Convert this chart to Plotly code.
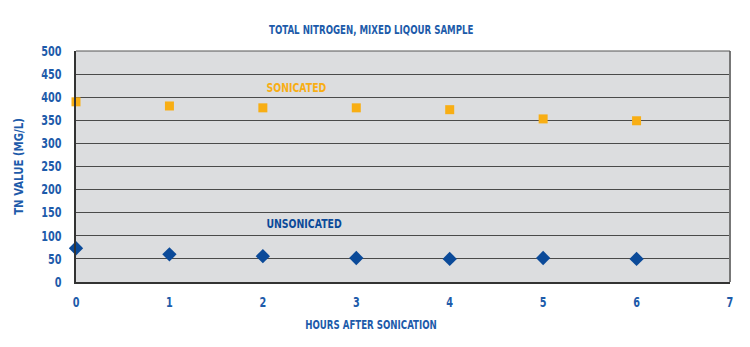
import plotly.graph_objects as go

hours = [0, 1, 2, 3, 4, 5, 6]
sonicated = [390, 381, 377, 377, 373, 353, 349]
unsonicated = [73, 60, 56, 52, 50, 52, 50]

x_ticks = [0, 1, 2, 3, 4, 5, 6, 7]
y_ticks = [0, 50, 100, 150, 200, 250, 300, 350, 400, 450, 500]

BLUE_TEXT = "#1D5BAA"
ORANGE = "#F8AE14"
NAVY = "#0B4A99"
FONT = "DejaVu Sans Condensed, Arial Narrow, sans-serif"

fig = go.Figure()
fig.add_trace(go.Scatter(
    x=hours, y=sonicated, mode="markers", name="SONICATED",
    marker=dict(symbol="square", size=9, color=ORANGE),
    cliponaxis=False,
))
fig.add_trace(go.Scatter(
    x=hours, y=unsonicated, mode="markers", name="UNSONICATED",
    marker=dict(symbol="diamond", size=11, color=NAVY),
    cliponaxis=False,
))

fig.add_annotation(x=2.36, y=422, text="SONICATED", showarrow=False,
                   font=dict(family=FONT, size=13, color=ORANGE, weight="bold"))
fig.add_annotation(x=2.44, y=126, text="UNSONICATED", showarrow=False,
                   font=dict(family=FONT, size=13, color=NAVY, weight="bold"))

# right and top edges of the plot frame
fig.add_shape(type="line", xref="paper", yref="paper", x0=1, x1=1, y0=0, y1=1,
              line=dict(color="#777777", width=2))
fig.add_shape(type="line", xref="paper", yref="paper", x0=0, x1=1, y0=1, y1=1,
              line=dict(color="#555555", width=1))

fig.update_layout(
    width=750, height=347,
    margin=dict(l=76, r=20, t=51, b=65),
    paper_bgcolor="white",
    plot_bgcolor="#DCDDDF",
    showlegend=False,
    title=dict(text="TOTAL NITROGEN, MIXED LIQOUR SAMPLE", x=0.495, xanchor="center",
               y=0.915, yanchor="middle",
               font=dict(family=FONT, size=13, color=BLUE_TEXT, weight="bold")),
    font=dict(family=FONT, color=BLUE_TEXT),
    xaxis=dict(
        range=[0, 7], tickvals=x_ticks, ticktext=[str(v) for v in x_ticks],
        showgrid=False, zeroline=False,
        showline=True, linecolor="#333333", linewidth=1.5,
        ticks="", ticklabelstandoff=7,
        tickfont=dict(family=FONT, size=13.5, color=BLUE_TEXT, weight="bold"),
        title=dict(text="HOURS AFTER SONICATION", standoff=11,
                   font=dict(family=FONT, size=13, color=BLUE_TEXT, weight="bold")),
    ),
    yaxis=dict(
        range=[0, 500], tickvals=y_ticks, ticktext=[str(v) for v in y_ticks],
        showgrid=True, gridcolor="#4A4A4A", gridwidth=1.3,
        zeroline=False,
        showline=True, linecolor="#333333", linewidth=1.5,
        ticks="", ticklabelstandoff=10,
        tickfont=dict(family=FONT, size=13.5, color=BLUE_TEXT, weight="bold"),
        title=dict(text="TN VALUE (MG/L)", standoff=10,
                   font=dict(family=FONT, size=13, color=BLUE_TEXT, weight="bold")),
    ),
)

# Narrow the condensed-bold lettering horizontally to get a tighter, poster-style face;
# the x-axis title is centred under the whole figure rather than the plot area.
narrow_css = """
.gtitle { transform-box: fill-box; transform-origin: center; transform: scaleX(0.74); }
.xtitle { transform-box: fill-box; transform-origin: center; transform: translateX(-32px) scaleX(0.74); }
g.xtick { transform-box: fill-box; transform-origin: center; transform: scaleX(0.8); }
g.ytick { transform-box: fill-box; transform-origin: right center; transform: scaleX(0.8); }
g.g-ytitle { transform-box: fill-box; transform-origin: center; transform: scaleY(0.87); }
text.annotation-text { transform-box: fill-box; transform-origin: center; transform: scaleX(0.8); }
"""
post_js = (
    "var st=document.createElement('style');"
    "st.textContent=" + repr(narrow_css).replace("\\n", " ") + ";"
    "document.head.appendChild(st);"
)

fig.write_html("out.html", post_script=post_js)
